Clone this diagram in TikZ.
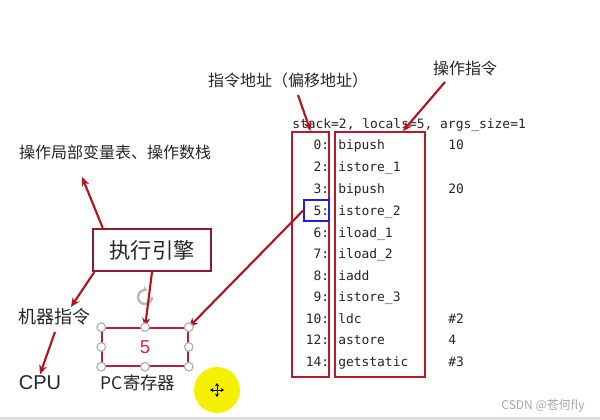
\documentclass[tikz,border=0pt]{standalone}
\usepackage{fontspec}
\setmainfont{Liberation Sans}
\newfontfamily\cjk{Noto Sans CJK SC}
\newfontfamily\codefont{DejaVu Sans Mono}
\usetikzlibrary{arrows.meta,fit,calc}
\definecolor{arrred}{HTML}{B3141F}
\definecolor{boxred}{HTML}{B81A2C}
\definecolor{engred}{HTML}{8E1B2B}
\definecolor{pcred}{HTML}{B52035}
\definecolor{fiver}{HTML}{D8283E}
\definecolor{txt}{HTML}{262626}
\definecolor{blu}{HTML}{1E1EE0}
\definecolor{hly}{HTML}{F4F000}
\begin{document}
\begin{tikzpicture}[x=0.75pt,y=-0.75pt,
  lab/.style={font=\cjk\fontsize{12}{14}\selectfont, text=txt, inner sep=1pt},
  code/.style={font=\codefont\fontsize{9.7}{12}\selectfont, text=txt, inner sep=0pt},
  arr/.style={draw=arrred, line width=1.6pt, -{Stealth[length=7pt,width=6pt]}},
  redbox/.style={draw=boxred, line width=1.5pt, inner sep=0pt},
  handle/.style={circle, draw=gray!60, fill=white, line width=0.9pt, minimum size=6.5pt, inner sep=0pt}
]
\useasboundingbox (0,0) rectangle (600,420);
\fill[white] (0,0) rectangle (600,420);
\fill[gray!25] (0,417) rectangle (600,420);

% labels
\node[lab] (addr) at (288,80) {指令地址（偏移地址）};
\node[lab] (op) at (465,68) {操作指令};
\node[lab] (loc) at (115,152) {操作局部变量表、操作数栈};
\node[lab, font=\cjk\fontsize{13.5}{15}\selectfont] (mach) at (54,317) {机器指令};
\node[font=\fontsize{15}{17}\selectfont, text=txt, inner sep=1pt] (cpu) at (40,383) {CPU};
\node[font=\cjk\fontsize{13}{15}\selectfont, text=txt, inner sep=1pt] (pcl) at (138,383) {PC寄存器};
\node[font=\cjk\fontsize{9}{11}\selectfont, text=gray!70, inner sep=0pt] (wm) at (543,406) {CSDN @苍何fly};

% code listing
\node[code, anchor=base west] (hdr) at (292,129) {stack=2, locals=5, args\_size=1};
\foreach \y/\n/\ins/\arg [count=\i] in {145/0/bipush/10, 167/2/istore\_1/{}, 189/3/bipush/20, 211/5/istore\_2/{}, 233/6/iload\_1/{}, 254/7/iload\_2/{}, 276/8/iadd/{}, 297/9/istore\_3/{}, 319/10/ldc/\#2, 340/12/astore/4, 362/14/getstatic/\#3}{
  \node[code, anchor=base east] (n\i) at (329.5,\y+4.5) {\n:};
  \node[code, anchor=base west] (c\i) at (338,\y+4.5) {\ins};
  \node[code, anchor=base west] (a\i) at (448,\y+4.5) {\arg};
}
\node[redbox, fit={(292,132)(329,377)}] (lbox) {};
\node[redbox, fit={(335,132)(425,377)}] (rbox) {};
\node[draw=blu, line width=1.3pt, inner sep=0pt, fit={(304,200)(329,221)}] (blue) {};

% engine
\node[draw=engred, line width=1.6pt, minimum width=88.5pt, minimum height=31.5pt, inner sep=0pt,
  font=\cjk\fontsize{16}{18}\selectfont, text=txt] (eng) at (152,250) {执行引擎};

% PC register box
\node[draw=pcred, line width=1.1pt, minimum width=64.5pt, minimum height=28.5pt, inner sep=0pt,
  text=fiver, font=\fontsize{14}{16}\selectfont] (pc) at (145,347) {5};

% rotation handle
\node[inner sep=0pt, minimum size=12pt] (rot) at (145,297) {};
\draw[gray!55, line width=1.8pt, -{Stealth[length=3.5pt,width=5pt]}] ([shift={(7,0)}]rot.center) arc[start angle=0, end angle=290, radius=7];

% arrows
\coordinate (addrtail) at (298,95);
\draw[arr] (addrtail) -- (lbox.north);
\coordinate (optail) at (445,82);
\draw[arr] (optail) -- ($(rbox.north)!0.5!(rbox.north east)$);
\coordinate (loctip) at (82,177);
\draw[arr] ($(eng.north west)!0.09!(eng.north east)$) -- (loctip);
\draw[arr] ($(eng.south west)!0.02!(eng.south east)$) -- ($(mach.north)!0.45!(mach.north east)$);
\coordinate (cputail) at (55,332);
\draw[arr] (cputail) -- (cpu.north);
\draw[arr] (eng.south) -- (pc.north);
\draw[arr] (blue.west) -- (pc.north east);

% handles
\foreach \a in {north west, north, north east, east, south east, south, south west, west}
  \node[handle] at (pc.\a) {};

% cursor highlight
\node[circle, fill=hly, minimum size=34.5pt, inner sep=0pt] (hl) at (217,390) {};
\foreach \dx/\dy in {0/-7, 0/7, 7/0, -7/0}
  \draw[black, line width=0.6pt, -{Stealth[length=2.5pt,width=3pt]}] (hl.center) -- ++(\dx,\dy);
\end{tikzpicture}
\end{document}
